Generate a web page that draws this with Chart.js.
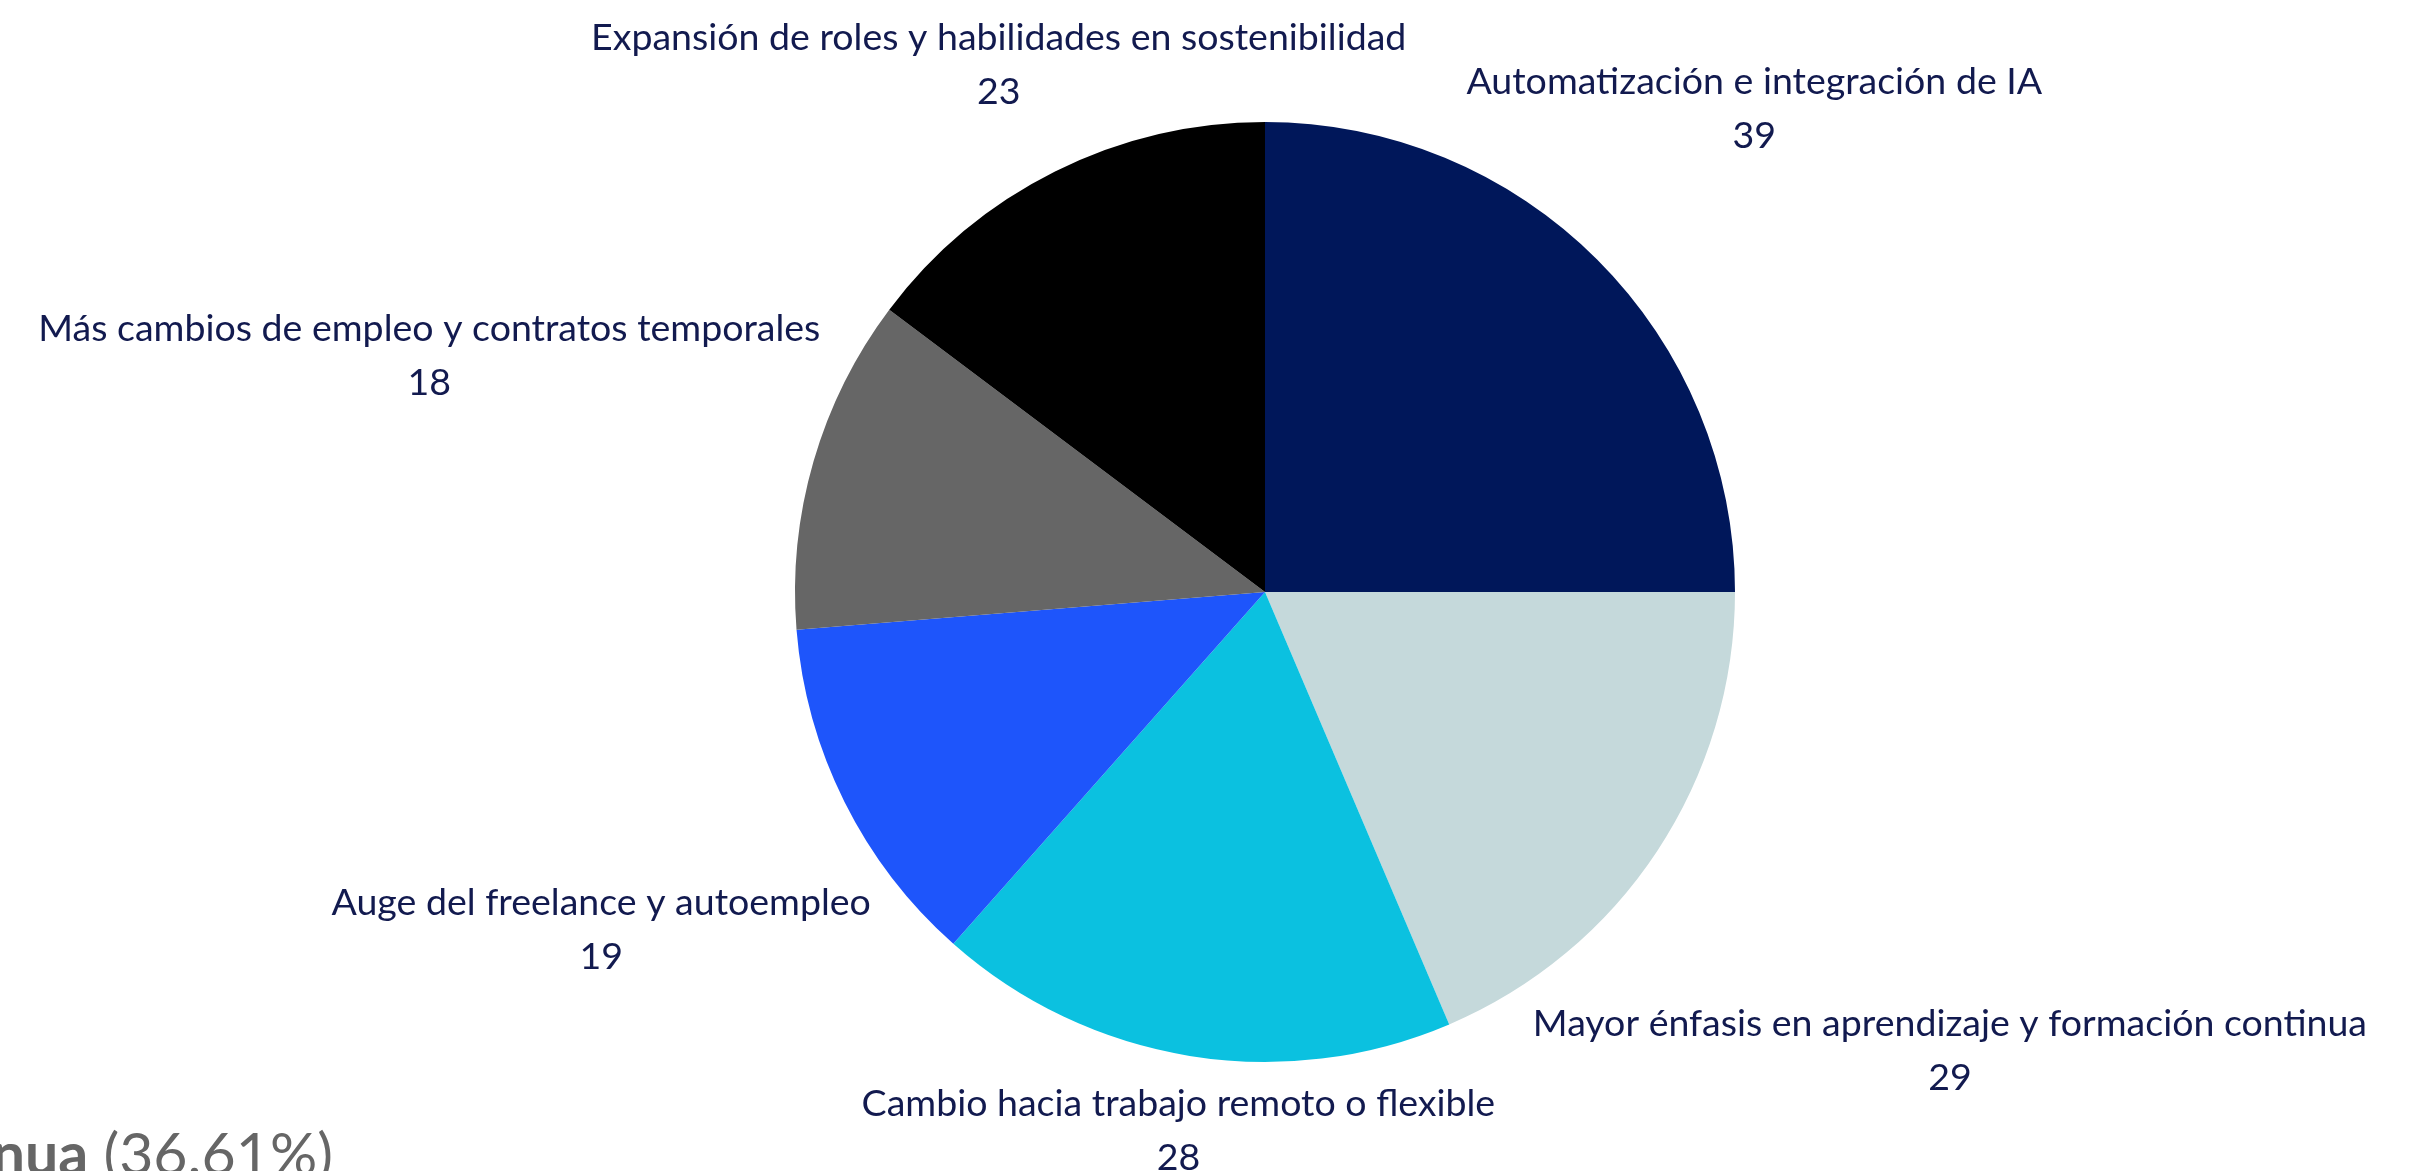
<!DOCTYPE html>
<html>
<head>
<meta charset="utf-8">
<script src="https://cdn.jsdelivr.net/npm/chart.js@4.4.0/dist/chart.umd.min.js"></script>
<style>
  html, body { margin: 0; padding: 0; background: #fff; overflow: hidden; }
  #wrap { width: 2413px; height: 1171px; position: relative; }
</style>
</head>
<body>
<div id="wrap"><canvas id="pie"></canvas></div>
<script>
// categories and values
const categories = [
    'Automatización e integración de IA',
    'Mayor énfasis en aprendizaje y formación continua',
    'Cambio hacia trabajo remoto o flexible',
    'Auge del freelance y autoempleo',
    'Más cambios de empleo y contratos temporales',
    'Expansión de roles y habilidades en sostenibilidad'
];
const counts = [39, 29, 28, 19, 18, 23];
const sliceColors = ['#00175a', '#c5d9db', '#0bc1e0', '#1e55fb', '#666666', '#000000'];

const textColor = '#121a4f';
const labelFont = '37.5px Lato';

// draws the two-line labels outside each slice
const outsideLabels = {
    id: 'outsideLabels',
    afterDraw(chart) {
        const ctx = chart.ctx;
        const meta = chart.getDatasetMeta(0);
        ctx.save();
        ctx.font = labelFont;
        ctx.fillStyle = textColor;
        ctx.textAlign = 'center';
        ctx.textBaseline = 'middle';
        meta.data.forEach((arc, i) => {
            const p = arc.getProps(['x', 'y', 'startAngle', 'endAngle', 'outerRadius'], true);
            const mid = (p.startAngle + p.endAngle) / 2;
            const ux = Math.cos(mid), uy = Math.sin(mid);
            const label = categories[i];
            const value = String(counts[i]);
            const w = Math.max(ctx.measureText(label).width, ctx.measureText(value).width);
            const h = 96;
            const gap = p.outerRadius + 15;
            // push the box out until its nearest point clears the pie
            let d = 0;
            for (; d < 2000; d += 1) {
                const dx = Math.max(Math.abs(d * ux) - w / 2, 0);
                const dy = Math.max(Math.abs(d * uy) - h / 2, 0);
                if (Math.sqrt(dx * dx + dy * dy) >= gap) break;
            }
            const cx = p.x + d * ux, cy = p.y + d * uy + 6;
            ctx.fillText(label, cx, cy - 27);
            ctx.fillText(value, cx, cy + 27);
        });

        // cut-off annotation at the bottom left
        ctx.fillStyle = '#666666';
        ctx.textAlign = 'left';
        ctx.textBaseline = 'alphabetic';
        ctx.font = '59px Lato';
        const rest = ' (36.61%)';
        const restW = ctx.measureText(rest).width;
        ctx.font = 'bold 59px Lato';
        const boldW = ctx.measureText('nua').width;
        const right = 333;
        ctx.fillText('nua', right - restW - boldW, 1175);
        ctx.font = '59px Lato';
        ctx.fillText(rest, right - restW, 1175);
        ctx.restore();
    }
};

const ctx = document.getElementById('pie').getContext('2d');
const pieChart = new Chart(ctx, {
    type: 'pie',
    data: {
        labels: categories,
        datasets: [{
            data: counts,
            backgroundColor: sliceColors,
            borderWidth: 0
        }]
    },
    options: {
        responsive: true,
        maintainAspectRatio: false,
        animation: false,
        layout: {
            padding: { left: 795, right: 678, top: 122, bottom: 109 }
        },
        plugins: {
            legend: { display: false },
            tooltip: { enabled: false }
        }
    },
    plugins: [outsideLabels]
});
</script>
</body>
</html>
